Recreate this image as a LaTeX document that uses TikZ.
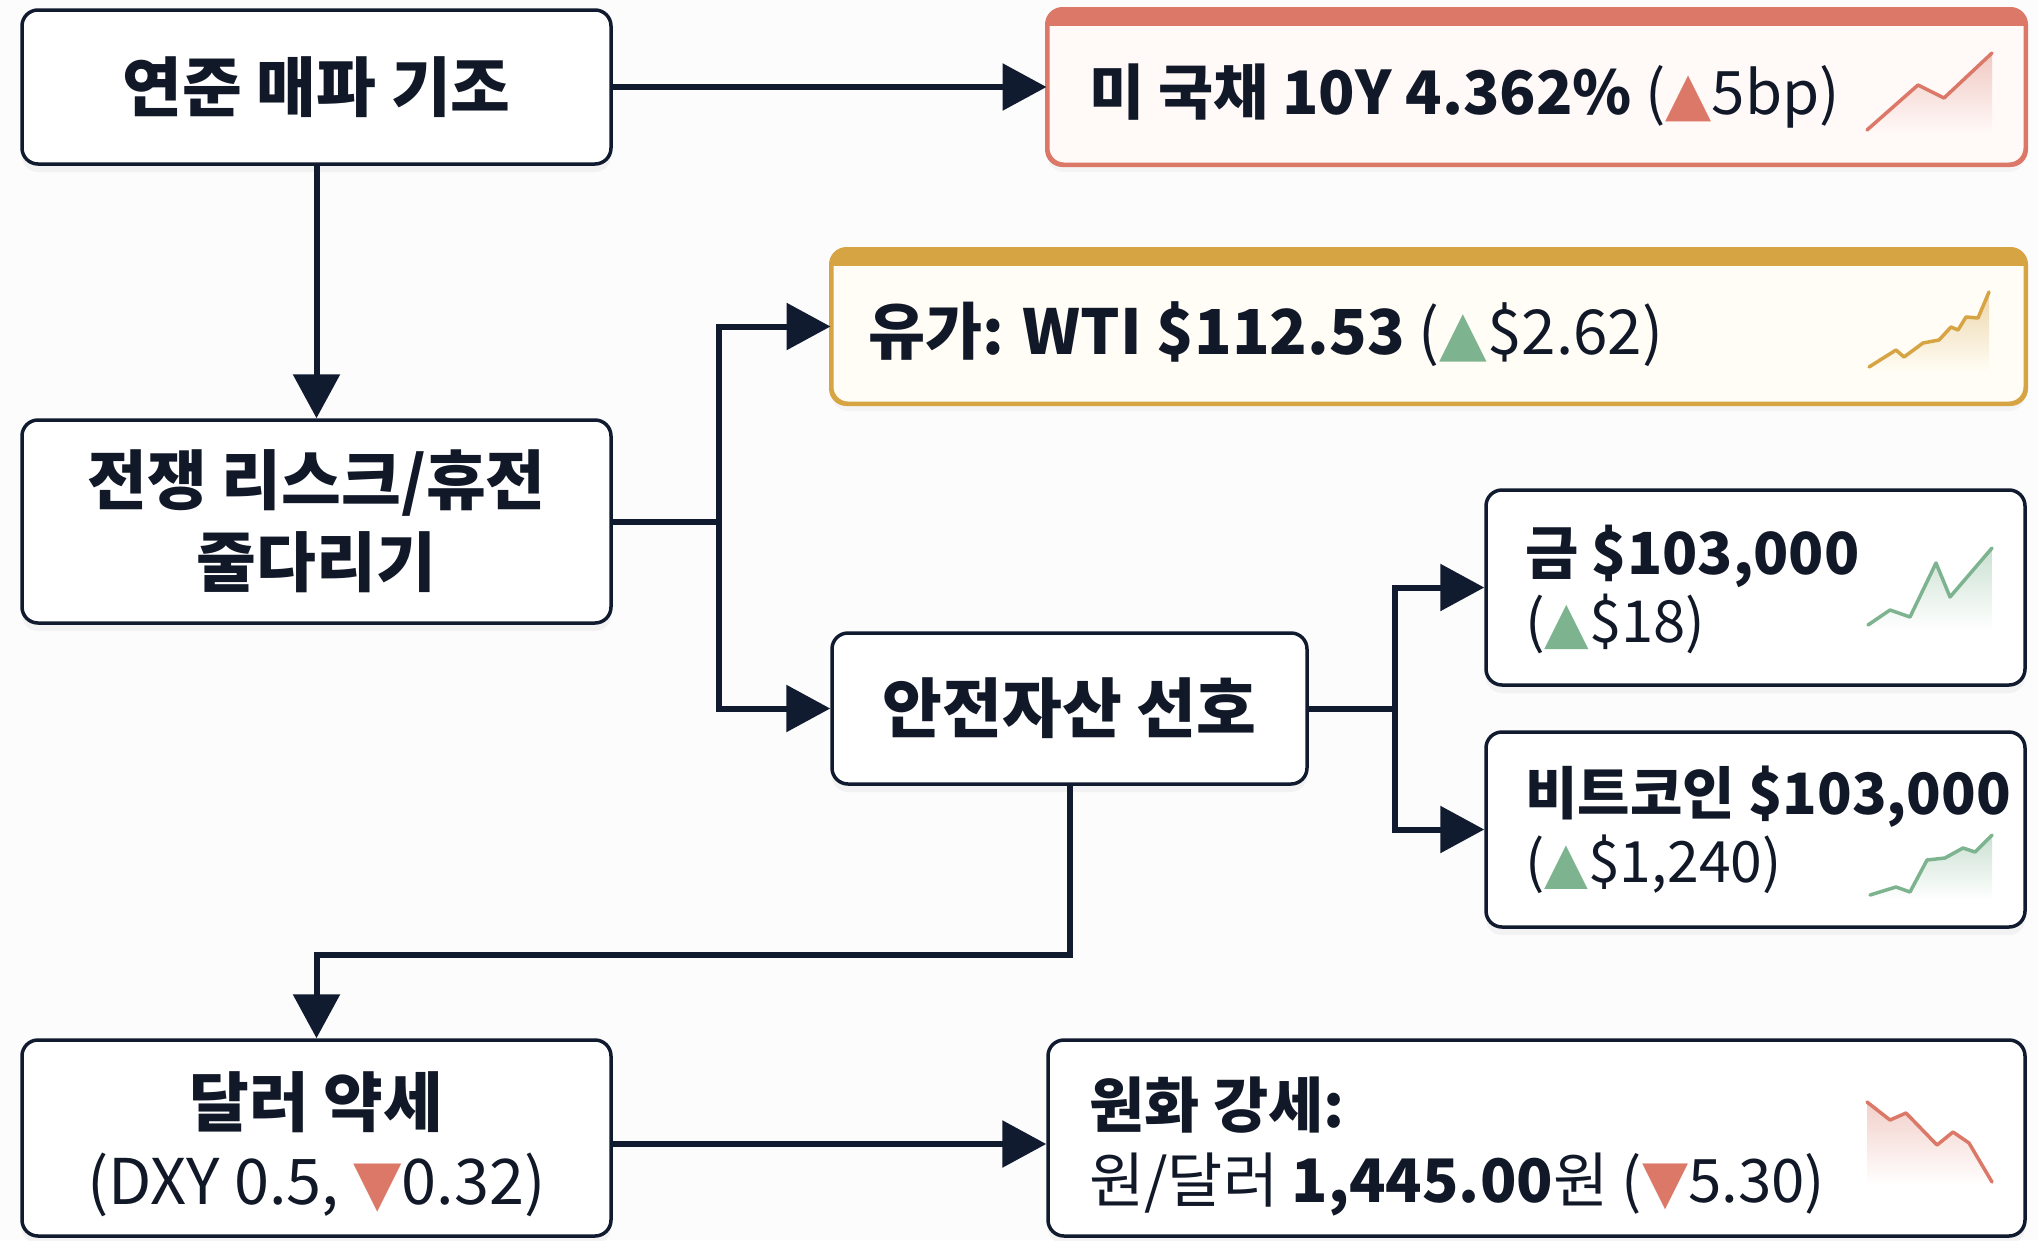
\documentclass[tikz,border=0pt]{standalone}
\usepackage{fontspec}
\setmainfont{Noto Sans CJK KR}
\newfontfamily\symf{DejaVu Sans}
\usetikzlibrary{arrows.meta,shadows}
\definecolor{navy}{HTML}{111B30}
\definecolor{ink}{HTML}{111827}
\definecolor{redc}{HTML}{DB7867}
\definecolor{redfill}{HTML}{FFF9F8}
\definecolor{goldc}{HTML}{D6A443}
\definecolor{goldfill}{HTML}{FFFDF5}
\definecolor{greenc}{HTML}{7DB38F}
\definecolor{bgc}{HTML}{FCFCFC}
\newcommand\upr[1]{\textcolor{#1}{\symf ▲}}
\newcommand\dnr[1]{\textcolor{#1}{\symf ▼}}
\tikzset{
  box/.style={draw=navy, line width=3.5pt, rounded corners=16pt, fill=white, inner sep=0pt,
    drop shadow={opacity=0.08, shadow xshift=0pt, shadow yshift=-8pt}},
  cbox/.style={draw=#1, line width=3pt, rounded corners=16pt, inner sep=0pt,
    drop shadow={opacity=0.06, shadow xshift=0pt, shadow yshift=-8pt}},
  arr/.style={draw=navy, line width=6pt, -{Triangle[length=44pt,width=46pt]}},
  lnk/.style={draw=navy, line width=6pt},
  bigtxt/.style={text=ink, inner sep=0pt, font=\fontsize{65}{82}\selectfont\bfseries, align=center},
  midtxt/.style={text=ink, inner sep=0pt, font=\fontsize{58}{68}\selectfont, align=left, anchor=west},
  spk/.style={line width=3.5pt, line join=round, line cap=round},
}
\begin{document}
\begin{tikzpicture}[x=1pt, y=-1pt]
\fill[bgc] (0,0) rectangle (2038,1240);
\useasboundingbox (0,0) rectangle (2038,1240);

% left column
\node[box, minimum width=589pt, minimum height=154pt] (A) at (316.5,87) {};
\node[bigtxt] (At) at (A.center) {연준 매파 기조};
\node[box, minimum width=589pt, minimum height=203pt] (B) at (316.5,521.5) {};
\node[bigtxt] (Bt) at (B.center) {전쟁 리스크/휴전\\줄다리기};
\node[box, minimum width=589pt, minimum height=196pt] (H) at (316.5,1138) {};
\node[text=ink, inner sep=0pt, align=center, font=\fontsize{63}{78}\selectfont] (Ht) at (316.5,1144) {{\fontsize{65}{78}\selectfont\bfseries 달러 약세}\\(DXY 0.5, \dnr{redc}0.32)};

% middle
\node[box, minimum width=475pt, minimum height=151pt] (E) at (1069.5,708.5) {};
\node[bigtxt] (Et) at (E.center) {안전자산 선호};

% colored boxes
\node[cbox=redc, fill=redfill, minimum width=977pt, minimum height=154pt] (C) at (1536.5,87) {};
\begin{scope}
\clip[rounded corners=16pt] (C.south west) rectangle (C.north east);
\fill[redc] ([yshift=2pt]C.north west) rectangle ([yshift=-17pt]C.north east);
\end{scope}
\draw[redc, line width=3pt, rounded corners=16pt] (C.south west) rectangle (C.north east);
\node[midtxt, font=\fontsize{60}{68}\selectfont] (Ct) at (1089,96) {{\bfseries 미 국채 10Y 4.362\%} (\upr{redc}5bp)};

\node[cbox=goldc, fill=goldfill, minimum width=1193pt, minimum height=153pt] (D) at (1428.5,326.5) {};
\begin{scope}
\clip[rounded corners=16pt] (D.south west) rectangle (D.north east);
\fill[goldc] ([yshift=2pt]D.north west) rectangle ([yshift=-17pt]D.north east);
\end{scope}
\draw[goldc, line width=3pt, rounded corners=16pt] (D.south west) rectangle (D.north east);
\node[midtxt, font=\fontsize{62}{68}\selectfont] (Dt) at (868,334) {{\bfseries 유가: WTI \$112.53} (\upr{greenc}\$2.62)};

% right boxes
\node[box, minimum width=539pt, minimum height=195pt] (F) at (1755.5,587.5) {};
\node[midtxt] (Ft) at (1525,589) {{\bfseries 금 \$103,000}\\(\upr{greenc}\$18)};
\node[box, minimum width=539pt, minimum height=195pt] (G) at (1755.5,829.5) {};
\node[midtxt, font=\fontsize{57}{68}\selectfont] (Gt) at (1525,830) {{\bfseries 비트코인 \$103,000}\\(\upr{greenc}\$1,240)};
\node[box, minimum width=977pt, minimum height=196pt] (I) at (1536.5,1138) {};
\node[midtxt, font=\fontsize{60}{75}\selectfont] (It) at (1089,1146) {{\bfseries 원화 강세:}\\원/달러 {\bfseries 1,445.00}원 (\dnr{redc}5.30)};

% sparklines
\shade[top color=redc!40, bottom color=redfill] (1867,130) -- (1918,85) -- (1944,98) -- (1992,53) -- (1992,133) -- (1867,133) -- cycle;
\draw[spk, redc] (1867,130) -- (1918,85) -- (1944,98) -- (1992,53);

\shade[top color=goldc!45, bottom color=goldfill] (1869,367) -- (1896,350) -- (1904,357) -- (1923,343) -- (1939,340) -- (1951,327) -- (1958,330) -- (1966,317) -- (1978,318) -- (1989,292) -- (1989,372) -- (1869,372) -- cycle;
\draw[spk, goldc] (1869,367) -- (1896,350) -- (1904,357) -- (1923,343) -- (1939,340) -- (1951,327) -- (1958,330) -- (1966,317) -- (1978,318) -- (1989,292);

\shade[top color=greenc!40, bottom color=white] (1868,625) -- (1890,610) -- (1910,617) -- (1936,563) -- (1950,597) -- (1992,548) -- (1992,630) -- (1868,630) -- cycle;
\draw[spk, greenc] (1868,625) -- (1890,610) -- (1910,617) -- (1936,563) -- (1950,597) -- (1992,548);

\shade[top color=greenc!40, bottom color=white] (1870,895) -- (1896,887) -- (1910,892) -- (1927,860) -- (1945,858) -- (1963,848) -- (1975,852) -- (1992,835) -- (1992,900) -- (1870,900) -- cycle;
\draw[spk, greenc] (1870,895) -- (1896,887) -- (1910,892) -- (1927,860) -- (1945,858) -- (1963,848) -- (1975,852) -- (1992,835);

\shade[top color=redc!35, bottom color=white] (1867,1102) -- (1890,1120) -- (1906,1113) -- (1937,1145) -- (1953,1132) -- (1969,1143) -- (1992,1182) -- (1992,1185) -- (1867,1185) -- cycle;
\draw[spk, redc] (1867,1102) -- (1890,1120) -- (1906,1113) -- (1937,1145) -- (1953,1132) -- (1969,1143) -- (1992,1182);

% connectors
\coordinate (busL) at (719,0);
\coordinate (busR) at (1395,0);
\coordinate (busB) at (0,955);
\draw[arr] (A.east) -- (C.west);
\draw[arr] (A.south) -- (B.north);
\draw[lnk] (B.east) -- (B.east -| busL);
\draw[arr] (B.east -| busL) |- (D.west);
\draw[arr] (B.east -| busL) |- (E.west);
\draw[lnk] (E.east) -- (E.east -| busR);
\draw[arr] (E.east -| busR) |- (F.west);
\draw[arr] (E.east -| busR) |- (G.west);
\draw[arr] (E.south) -- (E.south |- busB) -- (H.north |- busB) -- (H.north);
\draw[arr] ([yshift=-6pt]H.east) -- ([yshift=-6pt]I.west);
\end{tikzpicture}
\end{document}
